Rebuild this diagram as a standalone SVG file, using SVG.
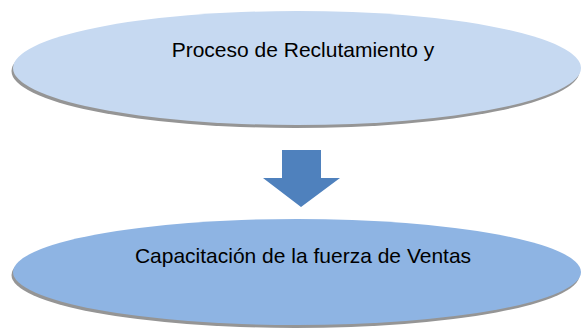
<svg xmlns="http://www.w3.org/2000/svg" width="582" height="331" viewBox="0 0 582 331">
<defs>
<filter id="sh" x="-5%" y="-10%" width="110%" height="130%">
<feGaussianBlur stdDeviation="0.6"/>
</filter>
</defs>
<style>
.lbl{font-family:"Liberation Sans",Arial,sans-serif;font-size:21px;fill:#000;text-anchor:middle}
.shadow{fill:#959595;filter:url(#sh)}
</style>
<rect width="582" height="331" fill="#fff"/>
<g id="node-reclutamiento">
<ellipse class="shadow" cx="295.5" cy="71" rx="284" ry="57"/>
<ellipse cx="297" cy="68" rx="284" ry="57" fill="#C6D9F1"/>
<text class="lbl" x="303" y="57">Proceso de Reclutamiento y</text>
</g>
<g id="connectors">
<polygon points="282,150 321,150 321,178 340,178 301,207 263,178 282,178" fill="#4F81BD"/>
</g>
<g id="node-capacitacion">
<ellipse class="shadow" cx="295.5" cy="275" rx="284" ry="53"/>
<ellipse cx="297" cy="272" rx="284" ry="53" fill="#8EB4E3"/>
<text class="lbl" x="303" y="263">Capacitación de la fuerza de Ventas</text>
</g>
</svg>
